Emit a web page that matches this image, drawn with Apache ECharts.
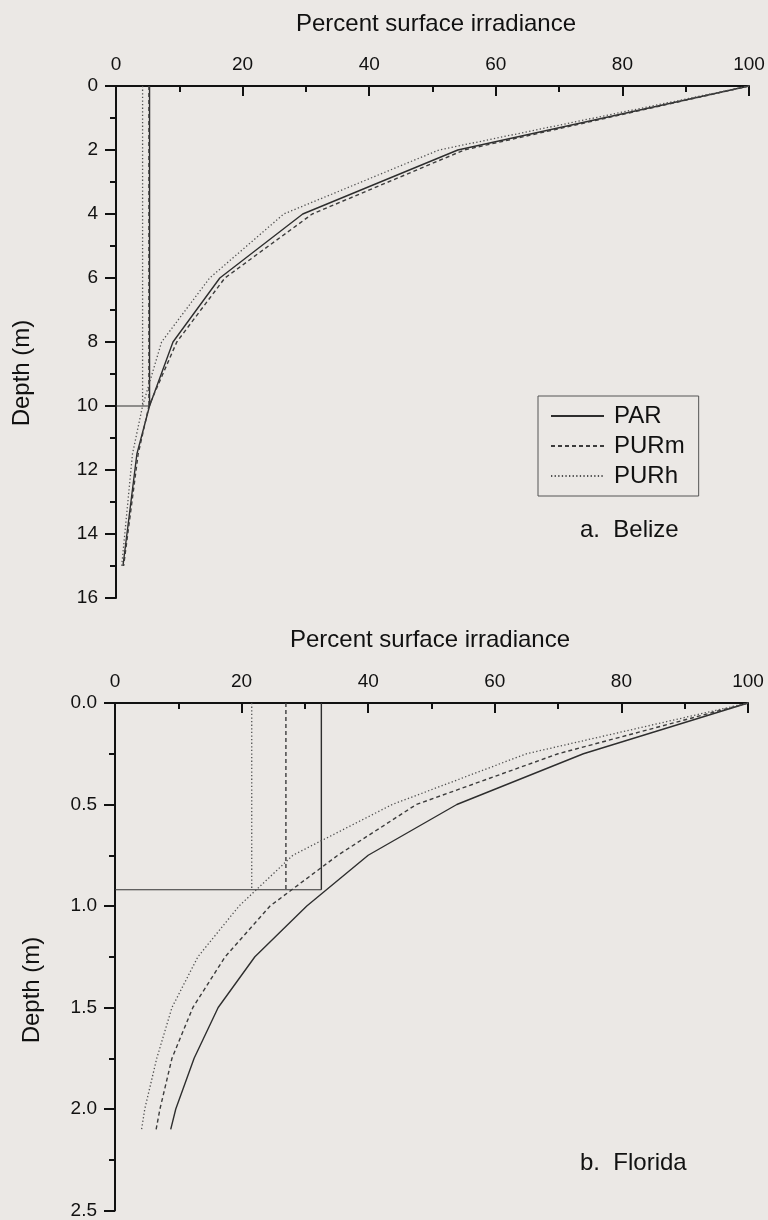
<!DOCTYPE html>
<html>
<head>
<meta charset="utf-8">
<title>Percent surface irradiance</title>
<script src="https://cdn.jsdelivr.net/npm/echarts@6/dist/echarts.min.js"></script>
<style>
	html, body { margin: 0; padding: 0; background: #ebe8e5; }
	#main { width: 768px; height: 1220px; }
</style>
</head>
<body>
<div id="main"></div>
<script>
// a. Belize
var belizeDepth = [0, 2, 4, 6, 8, 10, 11.5, 15];
var belizePAR = [100, 54, 29.5, 16.4, 9.0, 5.3, 3.3, 1.1];
var belizePURm = [100, 55, 31, 17.2, 9.6, 5.2, 3.5, 1.2];
var belizePURh = [100, 51, 26.5, 14.8, 7.2, 4.2, 2.6, 0.9];
var belizeMarkDepth = 10;
var belizeMark = [5.3, 5.2, 4.2];

// b. Florida
var floridaDepth = [0, 0.25, 0.5, 0.75, 1.0, 1.25, 1.5, 1.75, 2.0, 2.1];
var floridaPAR = [100, 74, 54, 40, 30.3, 22.1, 16.3, 12.5, 9.6, 8.8];
var floridaPURm = [100, 70, 47.6, 35.2, 24.5, 17.4, 12.3, 9.0, 7.1, 6.5];
var floridaPURh = [100, 65, 43.8, 28.1, 19.6, 13.1, 9.0, 6.6, 4.7, 4.2];
var floridaMarkDepth = 0.92;
var floridaMark = [32.6, 27.0, 21.6];

var seriesNames = ['PAR', 'PURm', 'PURh'];
var xTicks = [0, 20, 40, 60, 80, 100];
var belizeYTicks = [0, 2, 4, 6, 8, 10, 12, 14, 16];
var floridaYTicks = [0, 0.5, 1.0, 1.5, 2.0, 2.5];

var FONT = '"Liberation Sans", Arial, Helvetica, sans-serif';
var lineStyles = [
	{ color: '#2e2e2e', width: 1.4, type: 'solid' },
	{ color: '#3c3c3c', width: 1.4, type: [4, 3] },
	{ color: '#505050', width: 1.3, type: [1.3, 2.3] }
];

function pairs(xs, ys) {
	return ys.map(function(d, i) { return [xs[i], d]; });
}

function makeX(gridIndex) {
	return {
		type: 'value',
		gridIndex: gridIndex,
		position: 'top',
		min: xTicks[0],
		max: xTicks[xTicks.length - 1],
		interval: xTicks[1] - xTicks[0],
		axisLine: { show: true, onZero: false, lineStyle: { color: '#111', width: 2 } },
		axisTick: { show: true, inside: true, length: 10, lineStyle: { color: '#111', width: 2 } },
		minorTick: { show: true, splitNumber: 2, length: 6, lineStyle: { color: '#111', width: 2 } },
		axisLabel: { color: '#111', fontSize: 19, fontFamily: FONT, margin: 12 },
		splitLine: { show: false }
	};
}

function makeY(gridIndex, ticks, digits) {
	return {
		type: 'value',
		gridIndex: gridIndex,
		inverse: true,
		min: ticks[0],
		max: ticks[ticks.length - 1],
		interval: ticks[1] - ticks[0],
		axisLine: { show: true, onZero: false, lineStyle: { color: '#111', width: 2 } },
		axisTick: { show: true, inside: false, length: 11, lineStyle: { color: '#111', width: 2 } },
		minorTick: { show: true, splitNumber: 2, length: 6, lineStyle: { color: '#111', width: 2 } },
		axisLabel: {
			color: '#111', fontSize: 19, fontFamily: FONT, margin: 18,
			formatter: function(v) { return v.toFixed(digits); }
		},
		splitLine: { show: false }
	};
}

var series = [];
function addPanel(idx, depth, curves, markDepth, mark) {
	curves.forEach(function(vals, i) {
		series.push({
			name: seriesNames[i],
			type: 'line',
			xAxisIndex: idx,
			yAxisIndex: idx,
			data: pairs(vals, depth),
			symbol: 'none',
			itemStyle: { color: lineStyles[i].color },
			lineStyle: lineStyles[i],
			z: 3
		});
		// vertical drop from surface to the marked depth
		series.push({
			name: seriesNames[i] + ' mark',
			type: 'line',
			xAxisIndex: idx,
			yAxisIndex: idx,
			data: [[mark[i], 0], [mark[i], markDepth]],
			symbol: 'none',
			itemStyle: { color: lineStyles[i].color },
			lineStyle: lineStyles[i],
			z: 2
		});
	});
	series.push({
		name: 'depth mark',
		type: 'line',
		xAxisIndex: idx,
		yAxisIndex: idx,
		data: [[0, markDepth], [mark[0], markDepth]],
		symbol: 'none',
		itemStyle: { color: '#333' },
		lineStyle: { color: '#333', width: 1.2 },
		z: 2
	});
}

addPanel(0, belizeDepth, [belizePAR, belizePURm, belizePURh], belizeMarkDepth, belizeMark);
addPanel(1, floridaDepth, [floridaPAR, floridaPURm, floridaPURh], floridaMarkDepth, floridaMark);

var chart = echarts.init(document.getElementById('main'));
var option = {
	backgroundColor: '#ebe8e5',
	animation: false,
	grid: [
		{ left: 116, top: 86, width: 633, height: 512 },
		{ left: 115, top: 703, width: 633, height: 510 }
	],
	xAxis: [makeX(0), makeX(1)],
	yAxis: [makeY(0, belizeYTicks, 0), makeY(1, floridaYTicks, 1)],
	legend: {
		data: seriesNames,
		orient: 'vertical',
		left: 538,
		top: 396,
		padding: [8, 14, 8, 12],
		itemWidth: 53,
		itemHeight: 14,
		itemGap: 6,
		borderColor: '#555',
		borderWidth: 1,
		selectedMode: false,
		// hide the circle the line legend icon puts in the middle
		itemStyle: { color: 'rgba(0,0,0,0)', borderWidth: 0, opacity: 0 },
		textStyle: { color: '#111', fontSize: 24, fontFamily: FONT, padding: [0, 0, 0, 5] }
	},
	graphic: [
		{ type: 'text', x: 436, y: 24, style: { text: 'Percent surface irradiance', fontSize: 24, fontFamily: FONT, fill: '#111', align: 'center', verticalAlign: 'middle' } },
		{ type: 'text', x: 430, y: 640, style: { text: 'Percent surface irradiance', fontSize: 24, fontFamily: FONT, fill: '#111', align: 'center', verticalAlign: 'middle' } },
		{ type: 'text', x: 22, y: 373, rotation: Math.PI / 2, style: { text: 'Depth (m)', fontSize: 24, fontFamily: FONT, fill: '#111', align: 'center', verticalAlign: 'middle' } },
		{ type: 'text', x: 32, y: 990, rotation: Math.PI / 2, style: { text: 'Depth (m)', fontSize: 24, fontFamily: FONT, fill: '#111', align: 'center', verticalAlign: 'middle' } },
		{ type: 'text', x: 580, y: 530, style: { text: 'a.  Belize', fontSize: 24, fontFamily: FONT, fill: '#111', verticalAlign: 'middle' } },
		{ type: 'text', x: 580, y: 1163, style: { text: 'b.  Florida', fontSize: 24, fontFamily: FONT, fill: '#111', verticalAlign: 'middle' } }
	],
	series: series
};
chart.setOption(option);
</script>
</body>
</html>
